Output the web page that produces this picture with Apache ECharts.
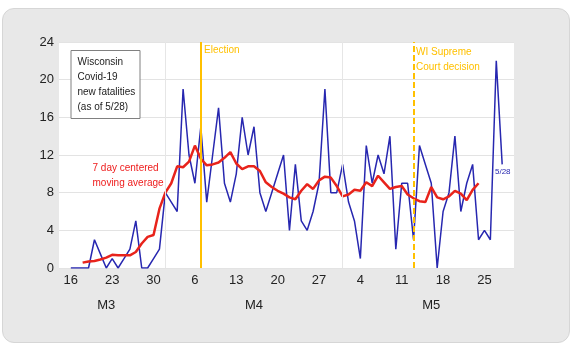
<!DOCTYPE html>
<html>
<head>
<meta charset="utf-8">
<script src="https://cdn.jsdelivr.net/npm/echarts@6/dist/echarts.min.js"></script>
<style>
    html, body { margin: 0; padding: 0; background: #fff; }
    #frame { position: absolute; left: 2px; top: 8px; width: 566px; height: 333px; background: #e8e8e8; border: 1px solid #d6d6d6; border-radius: 12px; }
    #main { position: absolute; left: 0; top: 0; width: 572px; height: 351px; }
</style>
</head>
<body>
<div id="frame"></div>
<div id="main"></div>
<script>
    // day 0 = 16 March, day 73 = 28 May
    var daily = [0, 0, 0, 0, 3, 1.5, 0, 1, 0, 1, 2, 5, 0, 0, 1, 2,
        8, 7, 6, 19, 12, 9, 15, 7, 12, 17, 9, 7, 10, 16, 12, 15, 8, 6, 8, 10, 12, 4, 11, 5, 4, 6, 9, 19, 8, 8,
        11, 7, 5, 1, 13, 9, 12, 10, 14, 2, 9, 9, 3, 13, 11, 9, 0, 6, 8, 14, 6, 9, 11, 3, 4, 3, 22, 11];
    var avgStart = 2;
    var avg7 = [0.57, 0.7, 0.74, 0.9, 1.1, 1.4, 1.35, 1.35, 1.35, 1.7,
        2.6, 3.3, 3.5, 6.3, 8.0, 9.0, 10.8, 10.7, 11.3, 13.0,
        11.6, 10.9, 11.0, 11.2, 11.7, 12.3, 11.1, 10.5, 10.8, 10.8,
        10.3, 9.1, 8.6, 8.2, 7.9, 7.5, 7.3, 8.2, 8.9, 8.4,
        9.3, 9.7, 9.6, 8.7, 7.6, 7.8, 8.3, 8.2, 9.1, 8.7,
        9.8, 9.1, 8.4, 8.6, 8.7, 7.8, 7.4, 7.1, 7.0, 8.6,
        7.5, 7.3, 7.6, 8.2, 7.9, 7.2, 8.3, 9.0];
    var tickDays = [0, 7, 14, 21, 28, 35, 42, 49, 56, 63, 70];
    var tickLabels = ['16', '23', '30', '6', '13', '20', '27', '4', '11', '18', '25'];
    var monthDays = [6, 31, 61];
    var monthLabels = ['M3', 'M4', 'M5'];
    var monthStarts = [16, 46];
    var electionDay = 22;
    var courtDay = 58;

    var dailyData = daily.map(function (v, i) { return [i, v]; });
    var avgData = avg7.map(function (v, i) { return [i + avgStart, v]; });

    var font = 'Liberation Sans';
    var gold = '#FFC000';

    var option = {
        animation: false,
        textStyle: { fontFamily: font },
        grid: { left: 59, right: 58, top: 42, bottom: 83, show: true, backgroundColor: '#fff', borderWidth: 0 },
        xAxis: [{
            type: 'value', min: -2, max: 75,
            axisLine: { show: false },
            axisTick: { show: false },
            splitLine: { show: false },
            axisLabel: {
                customValues: tickDays,
                color: '#222', fontSize: 13, margin: 6,
                formatter: function (v) { return tickLabels[tickDays.indexOf(v)]; }
            }
        }, {
            type: 'value', min: -2, max: 75, position: 'bottom', offset: 25,
            axisLine: { show: false },
            axisTick: { show: false },
            splitLine: { show: false },
            axisLabel: {
                customValues: monthDays,
                color: '#222', fontSize: 13, margin: 6,
                formatter: function (v) { return monthLabels[monthDays.indexOf(v)]; }
            }
        }],
        yAxis: {
            type: 'value', min: 0, max: 24, interval: 4,
            axisLine: { show: false },
            axisTick: { show: false },
            axisLabel: { color: '#222', fontSize: 13, margin: 5 },
            splitLine: { lineStyle: { color: '#e3e3e3', width: 1 } }
        },
        series: [{
            type: 'line', data: [], z: 1, silent: true,
            markLine: {
                silent: true, symbol: 'none', label: { show: false },
                data: [
                    { xAxis: monthStarts[0], lineStyle: { color: '#e6e6e6', width: 1, type: 'solid' } },
                    { xAxis: monthStarts[1], lineStyle: { color: '#e6e6e6', width: 1, type: 'solid' } },
                    { xAxis: electionDay, lineStyle: { color: gold, width: 2, type: 'solid' } },
                    { xAxis: courtDay, lineStyle: { color: gold, width: 2, type: [6, 3] } }
                ]
            }
        }, {
            name: 'daily', type: 'line', data: dailyData, z: 2,
            showSymbol: false, symbol: 'none',
            lineStyle: { color: '#2727b0', width: 1.5 }
        }, {
            name: 'avg', type: 'line', data: avgData, z: 3,
            showSymbol: false, symbol: 'none',
            lineStyle: { color: '#e8231b', width: 2.5 }
        }],
        graphic: [
            { type: 'rect', left: 70.5, top: 50, z: 100, shape: { width: 69, height: 68 },
              style: { fill: '#fff', stroke: '#808080', lineWidth: 1 } },
            { type: 'text', left: 77.5, top: 55, z: 101,
              style: { text: 'Wisconsin\nCovid-19\nnew fatalities\n(as of 5/28)', fontSize: 10, lineHeight: 14.8, fill: '#222', fontFamily: font } },
            { type: 'text', left: 92.5, top: 160, z: 101,
              style: { text: '7 day centered\nmoving average', fontSize: 10, lineHeight: 15.6, fill: '#ee1c1c', fontFamily: font } },
            { type: 'text', left: 204, top: 45, z: 101,
              style: { text: 'Election', fontSize: 10, fill: gold, fontFamily: font } },
            { type: 'text', left: 416, top: 45, z: 101,
              style: { text: 'WI Supreme\nCourt decision', fontSize: 10, lineHeight: 15, fill: gold, fontFamily: font } },
            { type: 'text', left: 495, top: 168, z: 101,
              style: { text: '5/28', fontSize: 8, fill: '#2727b0', fontFamily: font } }
        ]
    };

    echarts.init(document.getElementById('main')).setOption(option);
</script>
</body>
</html>
